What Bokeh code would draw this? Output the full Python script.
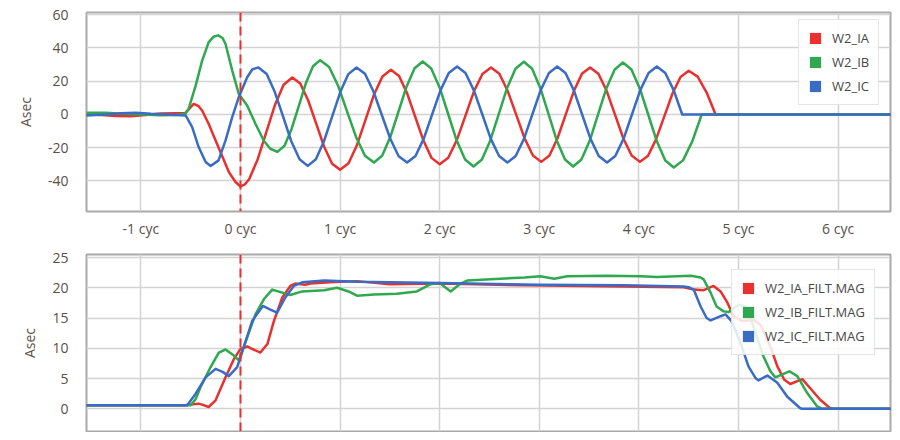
import numpy as np
from bokeh.plotting import figure
from bokeh.models import Range1d, FixedTicker, PrintfTickFormatter, Span, Legend, LegendItem
from bokeh.layouts import column
from bokeh.embed import file_html
from bokeh.resources import INLINE

# ---------------- data (time in cycles, values in A sec) ----------------
ia_t = [-1.55, -1.4, -1.25, -1.1, -0.95, -0.8, -0.65, -0.555,
        -0.52, -0.47, -0.42, -0.385, -0.32, -0.25, -0.18, -0.117, -0.05, 0.0,
        0.045, 0.087, 0.173, 0.26, 0.347, 0.433, 0.52,
        0.60, 0.68, 0.76, 0.84, 0.92, 1.0,
        1.085, 1.17, 1.255, 1.34, 1.425, 1.51,
        1.592, 1.673, 1.755, 1.837, 1.918, 2.0,
        2.086, 2.172, 2.258, 2.343, 2.429, 2.515,
        2.599, 2.683, 2.768, 2.852, 2.936, 3.02,
        3.102, 3.183, 3.265, 3.347, 3.428, 3.51,
        3.593, 3.677, 3.76, 3.843, 3.927, 4.01,
        4.092, 4.173, 4.255, 4.337, 4.418, 4.50,
        4.59, 4.68, 4.77, 6.6]
ia_v = [0.2, -0.3, -0.9, -1.0, -0.3, 0.6, 0.8, 0.8,
        3.0, 6.4, 5.0, 2.4, -5.6, -15.6, -25.6, -34.6, -40.6, -43.3,
        -42.0, -38.9, -26.9, -10.5, 5.9, 17.9, 22.3,
        18.6, 8.4, -5.5, -19.4, -29.6, -33.3,
        -29.3, -18.3, -3.2, 11.9, 22.9, 26.9,
        23.1, 12.7, -1.5, -15.7, -26.1, -29.9,
        -26.0, -15.4, -0.8, 13.8, 24.4, 28.3,
        24.5, 14.1, -0.1, -14.3, -24.7, -28.5,
        -24.7, -14.3, -0.1, 14.1, 24.5, 28.3,
        24.5, 14.1, -0.1, -14.3, -24.7, -28.5,
        -24.8, -14.8, -1.1, 12.6, 22.6, 26.3,
        22.8, 13.2, 0.0, 0.0]

ib_t = [-1.55, -1.35, -1.2, -1.0, -0.8, -0.65, -0.555,
        -0.52, -0.45, -0.385, -0.32, -0.27, -0.224, -0.18, -0.15, -0.083, -0.017,
        0.067, 0.15, 0.234, 0.30, 0.37,
        0.442, 0.513, 0.585, 0.657, 0.728, 0.80,
        0.89, 0.98, 1.07, 1.16, 1.25, 1.34,
        1.422, 1.503, 1.585, 1.667, 1.748, 1.83,
        1.915, 2.0, 2.085, 2.17, 2.255, 2.34,
        2.424, 2.508, 2.593, 2.677, 2.761, 2.845,
        2.928, 3.01, 3.093, 3.175, 3.258, 3.34,
        3.423, 3.507, 3.59, 3.673, 3.757, 3.84,
        3.925, 4.01, 4.095, 4.18, 4.265, 4.35,
        4.443, 4.537, 4.63, 6.6]
ib_v = [1.0, 1.0, 0.5, 0.0, -0.4, -0.3, 0.5,
        3.5, 17.4, 32.4, 43.4, 46.8, 47.6, 46.0, 42.4, 26.4, 12.4,
        5.4, -5.6, -15.8, -20.6, -22.5,
        -18.8, -8.7, 5.1, 18.9, 29.0, 32.7,
        28.6, 17.3, 1.9, -13.5, -24.8, -28.9,
        -24.8, -13.7, 1.5, 16.7, 27.8, 31.9,
        27.7, 16.1, 0.3, -15.5, -27.1, -31.3,
        -27.1, -15.6, 0.2, 16.0, 27.5, 31.7,
        27.5, 16.0, 0.2, -15.6, -27.1, -31.3,
        -27.1, -15.7, 0.0, 15.7, 27.1, 31.3,
        27.1, 15.5, -0.3, -16.1, -27.7, -31.9,
        -27.6, -16.0, 0.0, 0.0]

ic_t = [-1.55, -1.35, -1.2, -1.05, -0.9, -0.75, -0.6, -0.55,
        -0.485, -0.42, -0.35, -0.30, -0.22, -0.15, -0.083, -0.017, 0.067, 0.12, 0.18,
        0.263, 0.345, 0.428, 0.51, 0.593, 0.675,
        0.757, 0.838, 0.92, 1.002, 1.083, 1.165,
        1.25, 1.334, 1.419, 1.504, 1.588, 1.673,
        1.757, 1.84, 1.924, 2.008, 2.091, 2.175,
        2.259, 2.343, 2.428, 2.512, 2.596, 2.68,
        2.763, 2.847, 2.93, 3.013, 3.097, 3.18,
        3.263, 3.347, 3.43, 3.513, 3.597, 3.68,
        3.763, 3.847, 3.93, 4.013, 4.097, 4.18,
        4.265, 4.35, 4.435, 6.6]
ic_v = [-0.6, 0.0, 0.8, 1.0, 0.4, 0.0, -0.5, -0.6,
        -7.6, -19.6, -28.6, -31.0, -27.6, -15.6, -1.6, 10.4, 22.4, 27.2, 28.3,
        24.3, 13.5, -1.3, -16.1, -26.9, -30.9,
        -26.9, -16.1, -1.3, 13.5, 24.3, 28.3,
        24.5, 14.0, -0.3, -14.6, -25.1, -28.9,
        -25.0, -14.5, 0.0, 14.5, 25.0, 28.9,
        25.0, 14.5, 0.0, -14.5, -25.0, -28.9,
        -25.0, -14.5, 0.0, 14.5, 25.0, 28.9,
        25.0, 14.5, 0.0, -14.5, -25.0, -28.9,
        -25.0, -14.5, 0.0, 14.5, 25.0, 28.9,
        25.0, 14.5, 0.0, 0.0]

ia_mag_t = [-1.55, -0.56, -0.50, -0.42, -0.37, -0.32, -0.25, -0.15, -0.067, 0.0,
            0.067, 0.13, 0.20, 0.27, 0.335, 0.42, 0.50, 0.55, 0.65, 0.70, 0.90,
            1.17, 1.5, 2.0, 2.85, 3.85, 4.45, 4.55, 4.65, 4.75, 4.82, 4.89, 4.95,
            5.04, 5.15, 5.22, 5.32, 5.39, 5.46, 5.52, 5.64, 5.72, 5.82, 5.92, 5.95, 6.6]
ia_mag_v = [0.6, 0.6, 0.7, 0.85, 0.6, 0.3, 1.4, 5.2, 8.2, 9.9,
            10.3, 9.8, 9.3, 10.7, 14.5, 18.4, 20.3, 20.7, 20.5, 20.7, 20.9,
            21.1, 20.6, 20.7, 20.4, 20.2, 20.1, 19.7, 19.6, 20.3, 19.4, 17.5, 15.3,
            14.5, 14.7, 13.9, 10.3, 7.0, 4.8, 4.1, 4.9, 3.4, 1.5, 0.1, 0.0, 0.0]

ib_mag_t = [-1.55, -0.50, -0.45, -0.40, -0.30, -0.218, -0.15, -0.067, -0.017, 0.067,
            0.15, 0.234, 0.318, 0.42, 0.50, 0.62, 0.84, 0.97, 1.10, 1.17, 1.34,
            1.57, 1.77, 1.91, 2.0, 2.11, 2.21, 2.28, 2.51, 2.85, 3.01, 3.15, 3.28,
            3.68, 4.02, 4.18, 4.52, 4.62, 4.65, 4.72, 4.78, 4.85, 4.90, 5.0, 5.07,
            5.15, 5.25, 5.32, 5.37, 5.51, 5.59, 5.69, 5.79, 5.84, 6.6]
ib_mag_v = [0.6, 0.6, 1.6, 3.6, 6.9, 9.3, 9.8, 8.8, 8.0, 11.8,
            15.6, 18.1, 19.7, 19.2, 18.8, 19.4, 19.6, 20.0, 19.3, 18.7, 18.9,
            19.0, 19.4, 20.6, 20.8, 19.4, 20.7, 21.2, 21.4, 21.7, 21.9, 21.5, 21.9,
            22.0, 21.9, 21.8, 22.0, 21.7, 21.4, 19.2, 16.9, 16.1, 16.0, 17.2, 16.9,
            13.6, 8.7, 6.2, 5.2, 6.2, 5.4, 2.6, 0.4, 0.0, 0.0]

ic_mag_t = [-1.55, -0.535, -0.45, -0.35, -0.25, -0.18, -0.117, -0.033, 0.033, 0.117,
            0.224, 0.30, 0.368, 0.45, 0.535, 0.62, 0.84, 1.17, 2.0, 3.0, 3.85,
            4.45, 4.50, 4.55, 4.62, 4.68, 4.72, 4.82, 4.87, 4.93, 5.02, 5.10, 5.17,
            5.20, 5.29, 5.39, 5.49, 5.62, 5.64, 6.6]
ic_mag_v = [0.6, 0.6, 2.5, 5.2, 6.6, 6.1, 5.4, 6.9, 10.2, 14.5,
            17.0, 16.4, 15.9, 18.4, 20.3, 20.9, 21.2, 21.0, 20.8, 20.5, 20.4,
            20.2, 20.1, 19.7, 16.9, 15.0, 14.6, 15.3, 15.6, 14.5, 10.9, 7.0, 5.1,
            4.7, 5.5, 4.3, 2.0, 0.1, 0.0, 0.0]

top_names = ["W2_IA", "W2_IB", "W2_IC"]
bottom_names = ["W2_IA_FILT.MAG", "W2_IB_FILT.MAG", "W2_IC_FILT.MAG"]
phase_colors = ["#e8312e", "#2fa84f", "#3a6bc5"]
x_ticks = [-1, 0, 1, 2, 3, 4, 5, 6]
top_y_ticks = [-40, -20, 0, 20, 40, 60]
bottom_y_ticks = [0, 5, 10, 15, 20, 25]
trigger_cyc = 0
y_label = "Asec"

# ---------------- styling ----------------
FONT = "Open Sans"
TXT = "#5a5048"
X_RANGE = (-1.546, 6.526)


def style(p):
    p.outline_line_color = "#a9a9a9"
    p.outline_line_width = 2
    p.background_fill_color = "white"
    p.border_fill_color = "white"
    p.grid.grid_line_color = "#d3d3d3"
    p.grid.grid_line_width = 1.5
    for ax in p.axis:
        ax.axis_line_color = None
        ax.major_tick_line_color = None
        ax.minor_tick_line_color = None
        ax.major_tick_out = 0
        ax.major_tick_in = 0
        ax.major_label_text_font = FONT
        ax.major_label_text_font_size = "14px"
        ax.major_label_text_color = TXT
    p.xaxis.ticker = FixedTicker(ticks=x_ticks)
    p.xgrid.ticker = FixedTicker(ticks=x_ticks)
    p.yaxis.formatter = PrintfTickFormatter(format="%d")
    p.yaxis.axis_label = y_label
    p.yaxis.axis_label_text_font = FONT
    p.yaxis.axis_label_text_font_size = "14px"
    p.yaxis.axis_label_text_font_style = "normal"
    p.yaxis.axis_label_text_color = TXT
    p.yaxis.axis_label_standoff = 10
    p.yaxis.major_label_standoff = 18
    p.add_layout(Span(location=trigger_cyc, dimension="height", line_color=phase_colors[0],
                      line_width=2, line_dash="9 5"))


def add_legend(p, names, loc):
    items = []
    for n, c in zip(names, phase_colors):
        r = p.quad(left=np.array([np.nan]), right=np.array([np.nan]),
                   top=np.array([np.nan]), bottom=np.array([np.nan]),
                   fill_color=c, line_color=None)
        items.append(LegendItem(label=n, renderers=[r]))
    leg = Legend(items=items, location=loc, glyph_width=14, glyph_height=14,
                 label_height=14, label_standoff=10, spacing=6, padding=9, margin=0,
                 label_text_font=FONT, label_text_font_size="13px", label_text_color="#474747",
                 border_line_color="#cccccc", border_line_width=1.5,
                 background_fill_color="white", background_fill_alpha=0.85)
    p.add_layout(leg)


x_shared = Range1d(*X_RANGE)

p1 = figure(width=892, height=243, x_range=x_shared, y_range=Range1d(-58.35, 61.35),
            output_backend="svg", toolbar_location=None,
            min_border_left=86, min_border_right=2, min_border_top=12, min_border_bottom=32)
style(p1)
p1.yaxis.ticker = FixedTicker(ticks=top_y_ticks)
p1.ygrid.ticker = FixedTicker(ticks=top_y_ticks)
p1.xaxis.formatter = PrintfTickFormatter(format="%d cyc")
p1.xaxis.major_label_standoff = 7
for t, v, c in [(ia_t, ia_v, phase_colors[0]), (ib_t, ib_v, phase_colors[1]), (ic_t, ic_v, phase_colors[2])]:
    p1.line(t, v, line_color=c, line_width=2.5, line_join="round")
add_legend(p1, top_names, (712, 106))

p2 = figure(width=892, height=189, x_range=x_shared, y_range=Range1d(-3.75, 25.5),
            output_backend="svg", toolbar_location=None,
            min_border_left=86, min_border_right=2, min_border_top=11, min_border_bottom=1)
style(p2)
p2.yaxis.ticker = FixedTicker(ticks=bottom_y_ticks)
p2.ygrid.ticker = FixedTicker(ticks=bottom_y_ticks)
p2.xaxis.visible = False
for t, v, c in [(ia_mag_t, ia_mag_v, phase_colors[0]), (ib_mag_t, ib_mag_v, phase_colors[1]),
                (ic_mag_t, ic_mag_v, phase_colors[2])]:
    p2.line(t, v, line_color=c, line_width=2.5, line_join="round")
add_legend(p2, bottom_names, (645, 76))

layout = column(p1, p2, spacing=0)
open("out.html", "w").write(file_html(layout, INLINE))
